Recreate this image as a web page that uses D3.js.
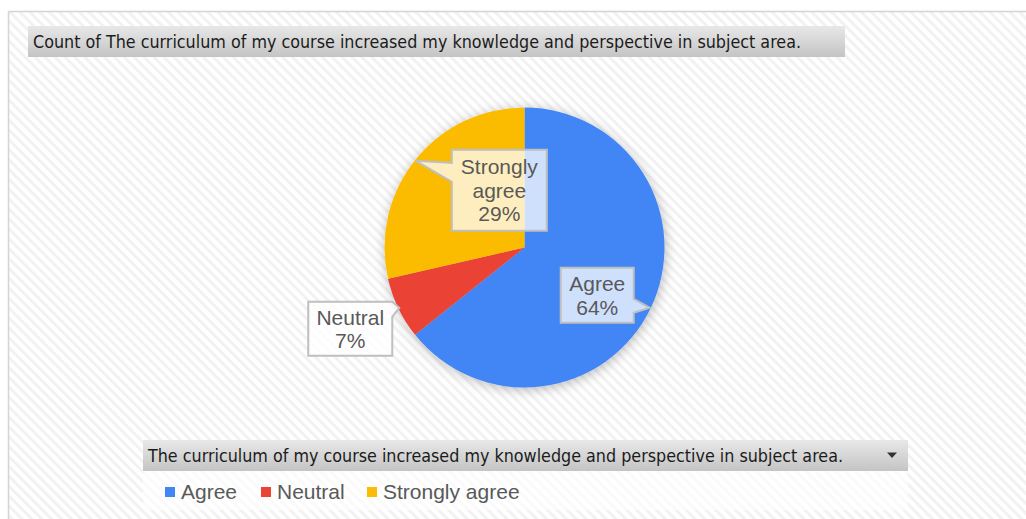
<!DOCTYPE html>
<html>
<head>
<meta charset="utf-8">
<script src="https://cdnjs.cloudflare.com/ajax/libs/d3/7.8.5/d3.min.js"></script>
<style>
html,body{margin:0;padding:0;background:#fff;}
svg{display:block;}
</style>
</head>
<body>
<svg id="chart" width="1026" height="519"></svg>
<script>
// ---- data ----
const categories = ["Agree", "Neutral", "Strongly agree"];
const counts = [45, 5, 20];
const labelLines = [["Agree"], ["Neutral"], ["Strongly", "agree"]];
const colors = ["#4285f4", "#ea4335", "#fbbc04"];
const chartTitle = "Count of The curriculum of my course increased my knowledge and perspective in subject area.";
const fieldTitle = "The curriculum of my course increased my knowledge and perspective in subject area.";

// ---- layout ----
const W = 1026, H = 519;
const cx = 524.5, cy = 247.5, R = 140;
// label box geometry relative to pointer tip
const labelBoxes = [
  {dx: -52.5, dy: -12.5, w: 73, h: 55, side: "right", b1: 31, b2: 45},
  {dx: -49, dy: 21, w: 84, h: 54, side: "right", b1: 0, b2: 15},
  {dx: 83.5, dy: 29.5, w: 95, h: 81, side: "left", b1: 13, b2: 32}
];

const svg = d3.select("#chart");
const defs = svg.append("defs");

// diagonal stripe pattern
const pat = defs.append("pattern").attr("id", "stripes").attr("patternUnits", "userSpaceOnUse")
  .attr("width", 7).attr("height", 7).attr("patternTransform", "rotate(45)");
pat.append("rect").attr("width", 7).attr("height", 7).attr("fill", "#ffffff");
pat.append("rect").attr("width", 7).attr("height", 3).attr("fill", "#f2f2f2");

const pat2 = defs.append("pattern").attr("id", "stripes2").attr("patternUnits", "userSpaceOnUse")
  .attr("width", 7).attr("height", 7).attr("patternTransform", "rotate(45)");
pat2.append("rect").attr("width", 7).attr("height", 7).attr("fill", "#ffffff");
pat2.append("rect").attr("width", 7).attr("height", 3).attr("fill", "#fafafa");

const grad = defs.append("linearGradient").attr("id", "bar").attr("x1", 0).attr("x2", 0).attr("y1", 0).attr("y2", 1);
grad.append("stop").attr("offset", "0%").attr("stop-color", "#e8e8e8");
grad.append("stop").attr("offset", "100%").attr("stop-color", "#c4c4c4");

const shadow = defs.append("filter").attr("id", "shadow")
  .attr("x", "-20%").attr("y", "-20%").attr("width", "140%").attr("height", "140%");
shadow.append("feDropShadow").attr("dx", 1).attr("dy", 2).attr("stdDeviation", 6)
  .attr("flood-color", "#000").attr("flood-opacity", 0.28);

// background frame
svg.append("rect").attr("x", 0).attr("y", 0).attr("width", W).attr("height", H).attr("fill", "#fff");
svg.append("rect").attr("x", 9).attr("y", 12).attr("width", W - 9).attr("height", H - 12).attr("fill", "url(#stripes)");
svg.append("line").attr("x1", 8.5).attr("x2", W).attr("y1", 11.5).attr("y2", 11.5).attr("stroke", "#d4d4d4").attr("stroke-width", 1.5);
svg.append("line").attr("x1", 8.5).attr("x2", 8.5).attr("y1", 11.5).attr("y2", H).attr("stroke", "#d4d4d4").attr("stroke-width", 1.5);

// title bar
svg.append("rect").attr("x", 28).attr("y", 26).attr("width", 817).attr("height", 31).attr("fill", "url(#bar)");
svg.append("text").attr("x", 33).attr("y", 48).text(chartTitle)
  .attr("font-family", "'DejaVu Sans Condensed','DejaVu Sans',sans-serif").attr("font-size", 17)
  .attr("fill", "#1b1b1b").attr("textLength", 768).attr("lengthAdjust", "spacingAndGlyphs");

// pie
const pie = d3.pie().sort(null).value(d => d)(counts);
const arc = d3.arc().innerRadius(0).outerRadius(R);
const color = d3.scaleOrdinal().domain(categories).range(colors);
const total = d3.sum(counts);

const g = svg.append("g").attr("transform", `translate(${cx},${cy})`);
g.append("g").attr("filter", "url(#shadow)").selectAll("path").data(pie).join("path")
  .attr("d", arc).attr("fill", (d, i) => color(categories[i]));

// data labels (callouts)
function calloutPath(x0, y0, w, h, side, b1, b2, tx, ty) {
  const x1 = x0 + w, y1 = y0 + h;
  if (side === "right") {
    return `M${x0},${y0} L${x1},${y0} L${x1},${y0 + b1} L${tx},${ty} L${x1},${y0 + b2} L${x1},${y1} L${x0},${y1} Z`;
  }
  return `M${x0},${y0} L${x1},${y0} L${x1},${y1} L${x0},${y1} L${x0},${y0 + b2} L${tx},${ty} L${x0},${y0 + b1} Z`;
}

const fmt = d3.format(".0%");
pie.forEach((d, i) => {
  const mid = (d.startAngle + d.endAngle) / 2;
  const tx = Math.sin(mid) * (R - 1);
  const ty = -Math.cos(mid) * (R - 1);
  const b = labelBoxes[i];
  const bx = tx + b.dx, by = ty + b.dy;
  const x0 = bx - b.w / 2, y0 = by - b.h / 2;
  g.append("path").attr("d", calloutPath(x0, y0, b.w, b.h, b.side, b.b1, b.b2, tx, ty))
    .attr("fill", "#ffffff").attr("fill-opacity", 0.75)
    .attr("stroke", "#bfbfbf").attr("stroke-width", 2).attr("stroke-linejoin", "miter");
  const lines = labelLines[i].concat([fmt(counts[i] / total)]);
  const lh = 23.5;
  const t = g.append("text").attr("text-anchor", "middle")
    .attr("font-family", "'Liberation Sans',Arial,sans-serif").attr("font-size", 21).attr("fill", "#595959");
  lines.forEach((ln, k) => {
    t.append("tspan").attr("x", bx).attr("y", by + (k - (lines.length - 1) / 2) * lh + 7.5).text(ln);
  });
});

// legend / field area
svg.append("rect").attr("x", 143).attr("y", 471).attr("width", 765).attr("height", 39).attr("fill", "url(#stripes2)");
svg.append("rect").attr("x", 143).attr("y", 440).attr("width", 765).attr("height", 31).attr("fill", "url(#bar)");
svg.append("text").attr("x", 148).attr("y", 462).text(fieldTitle)
  .attr("font-family", "'DejaVu Sans Condensed','DejaVu Sans',sans-serif").attr("font-size", 17)
  .attr("fill", "#1b1b1b").attr("textLength", 695).attr("lengthAdjust", "spacingAndGlyphs");
svg.append("path").attr("d", "M887,452.5 L897,452.5 L892,458 Z").attr("fill", "#333");

const legendX = [165, 261, 367];
const leg = svg.append("g");
categories.forEach((c, i) => {
  leg.append("rect").attr("x", legendX[i]).attr("y", 487).attr("width", 10).attr("height", 10).attr("fill", color(c));
  leg.append("text").attr("x", legendX[i] + 16).attr("y", 498.5).text(c)
    .attr("font-family", "'Liberation Sans',Arial,sans-serif").attr("font-size", 21).attr("fill", "#595959");
});
</script>
</body>
</html>
